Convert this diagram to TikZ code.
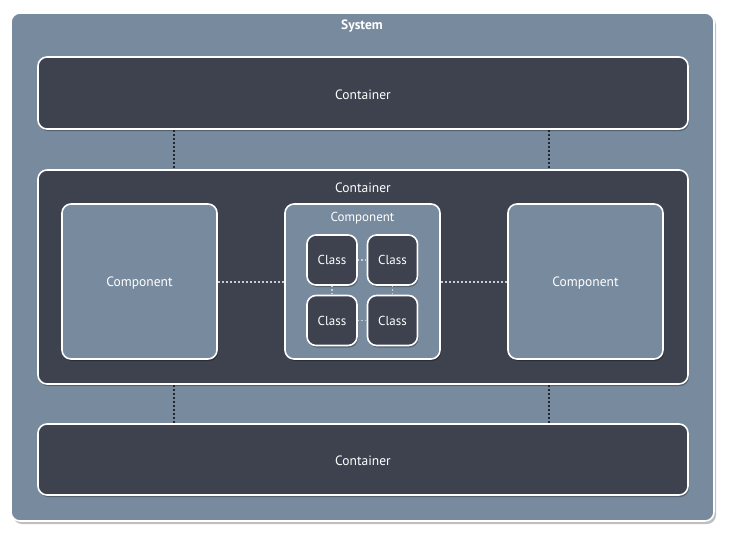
\documentclass[tikz,border=0pt]{standalone}
\usepackage{fontspec}
\setmainfont{PT Sans}
\usetikzlibrary{shadows}
\definecolor{slate}{RGB}{120,138,158}
\definecolor{darkslate}{RGB}{61,66,78}
\definecolor{dotc}{RGB}{35,38,45}
\definecolor{lightdot}{RGB}{200,205,212}
\tikzset{
  sysbox/.style={draw=white, line width=1.6pt, fill=slate, rounded corners=9pt,
    drop shadow={shadow xshift=2pt, shadow yshift=-3pt, fill=black, opacity=0.25}},
  darkbox/.style={draw=white, line width=1.6pt, fill=darkslate, rounded corners=9pt,
    drop shadow={shadow xshift=1pt, shadow yshift=-2pt, fill=black, opacity=0.3}},
  lightbox/.style={draw=white, line width=1.6pt, fill=slate, rounded corners=9pt,
    drop shadow={shadow xshift=1pt, shadow yshift=-2pt, fill=black, opacity=0.3}},
  lbl/.style={text=white, font=\fontsize{13.5}{15}\selectfont},
  slbl/.style={text=white, font=\fontsize{13}{15}\selectfont},
  conn/.style={draw=dotc, line width=2pt, dash pattern=on 2pt off 2pt},
  hconn/.style={draw=lightdot, line width=2pt, dash pattern=on 2pt off 2pt},
  smallconn/.style={draw=lightdot, line width=1.5pt, dash pattern=on 1.5pt off 2pt},
}
\begin{document}
\begin{tikzpicture}[x=1pt,y=-1pt]
\useasboundingbox[fill=white] (0,0) rectangle (741,538);
% system
\path[sysbox] (11,13) rectangle (714,521);
\node[lbl, font=\fontsize{13.5}{15}\selectfont\bfseries] (systitle) at (362,26.5) {System};
% containers
\path[darkbox] (38,57) rectangle (688,129);
\node[lbl] (c1) at (363,94.5) {Container};
\path[darkbox] (38,170) rectangle (688,384);
\node[lbl] (c2) at (363,187.5) {Container};
\path[darkbox] (38,424) rectangle (688,495);
\node[lbl] (c3) at (363,460.5) {Container};
% connectors between containers
\coordinate (v1a) at (174,130); \coordinate (v1b) at (174,169);
\coordinate (v2a) at (549,130); \coordinate (v2b) at (549,169);
\coordinate (v3a) at (174,385); \coordinate (v3b) at (174,423);
\coordinate (v4a) at (549,385); \coordinate (v4b) at (549,423);
\draw[conn] (v1a) -- (v1b);
\draw[conn] (v2a) -- (v2b);
\draw[conn] (v3a) -- (v3b);
\draw[conn] (v4a) -- (v4b);
% components
\tikzset{compbox/.style={lightbox, minimum width=155pt, minimum height=155pt, inner sep=0pt}}
\node[compbox] (compL) at (139.5,281.5) {};
\node[lbl] at ([yshift=-2pt]compL.center) {Component};
\node[compbox] (compM) at (362.5,281.5) {};
\node[slbl] (compMlbl) at (362.5,218.5) {Component};
\node[compbox] (compR) at (585.5,281.5) {};
\node[lbl] at ([yshift=-2pt]compR.center) {Component};
\draw[hconn] (compL.east) -- (compM.west);
\draw[hconn] (compM.east) -- (compR.west);
% classes
\tikzset{classbox/.style={darkbox, minimum width=50pt, minimum height=50pt, inner sep=0pt, slbl}}
\node[classbox] (k1) at (332,260) {Class};
\node[classbox] (k2) at (392.5,260) {Class};
\node[classbox] (k3) at (332,320.5) {Class};
\node[classbox] (k4) at (392.5,320.5) {Class};
\draw[smallconn] (k1.east) -- (k2.west);
\draw[smallconn] (k3.east) -- (k4.west);
\draw[smallconn] (k1.south) -- (k3.north);
\draw[smallconn] (k2.south) -- (k4.north);
\end{tikzpicture}
\end{document}
